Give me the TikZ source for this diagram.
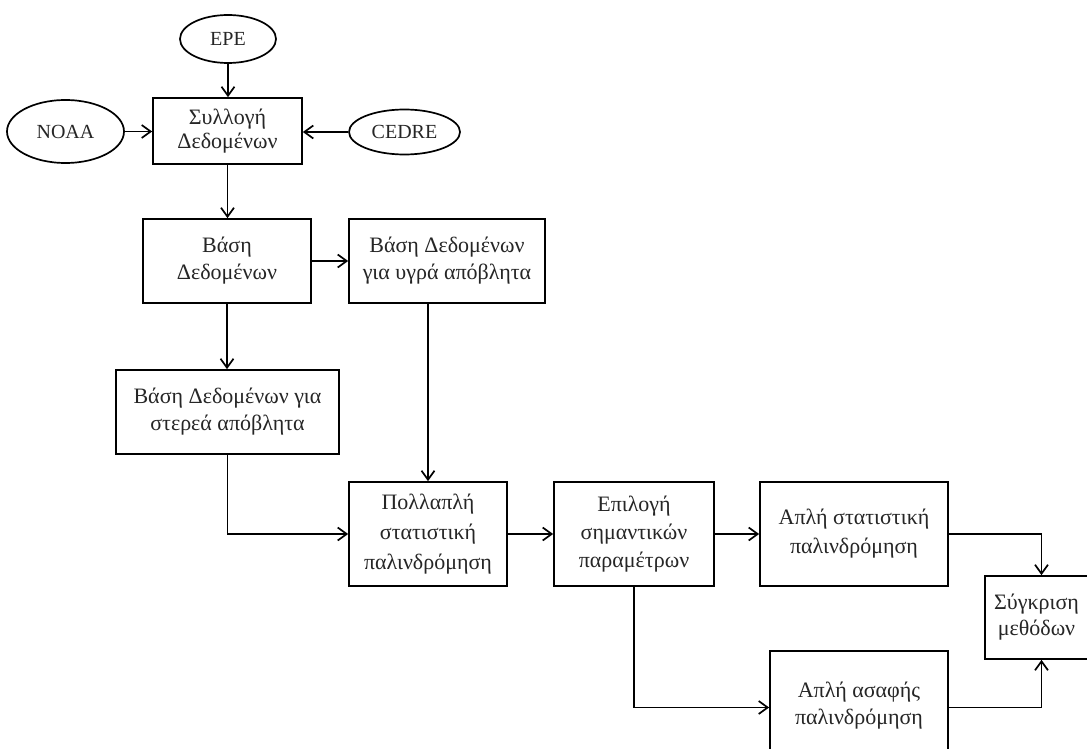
\documentclass[tikz,border=0pt]{standalone}
\usepackage{fontspec}
\setmainfont{Liberation Serif}
\usetikzlibrary{shapes.geometric,arrows.meta}
\begin{document}
\begin{tikzpicture}[x=1pt,y=-1pt,
  every node/.style={font=\fontsize{22}{27}\selectfont, text=black!85, inner sep=0pt, align=center},
  procbox/.style={draw, line width=1.7pt, rectangle},
  srcell/.style={draw, line width=1.7pt, ellipse},
  conn/.style={draw, line width=1.7pt, -{Straight Barb[length=9pt,width=13pt,line width=1.7pt]}}
]
\useasboundingbox (0,0) rectangle (1087,749);
\fill[white] (0,0) rectangle (1087,749);

\node[srcell, minimum width=96, minimum height=48, font=\fontsize{20}{24}\selectfont] (epe) at (228,39) {EPE};
\node[srcell, minimum width=117, minimum height=63, font=\fontsize{20}{24}\selectfont] (noaa) at (65.5,131.5) {NOAA};
\node[srcell, minimum width=111, minimum height=45, font=\fontsize{20}{24}\selectfont] (cedre) at (404.5,132) {CEDRE};
\node[procbox, minimum width=149, minimum height=66, font=\fontsize{22}{24}\selectfont] (syl) at (227.5,131) {Συλλογή\\Δεδομένων};
\node[procbox, minimum width=168, minimum height=84] (vasi) at (227,261) {Βάση\\Δεδομένων};
\node[procbox, minimum width=196, minimum height=84] (ygra) at (447,261) {Βάση Δεδομένων\\για υγρά απόβλητα};
\node[procbox, minimum width=223, minimum height=84] (sterea) at (227.5,412) {Βάση Δεδομένων για\\στερεά απόβλητα};
\node[procbox, minimum width=158, minimum height=104, font=\fontsize{22}{30}\selectfont] (poll) at (428,534) {Πολλαπλή\\στατιστική\\παλινδρόμηση};
\node[procbox, minimum width=160, minimum height=104, font=\fontsize{22}{28}\selectfont] (epil) at (634,534) {Επιλογή\\σημαντικών\\παραμέτρων};
\node[procbox, minimum width=188, minimum height=104, font=\fontsize{22}{29}\selectfont] (aplstat) at (854,534) {Απλή στατιστική\\παλινδρόμηση};
\node[procbox, minimum width=178, minimum height=109, font=\fontsize{22}{27}\selectfont] (asaf) at (859,705.5) {Απλή ασαφής\\παλινδρόμηση};
\node[procbox, minimum width=103, minimum height=83, font=\fontsize{22}{26}\selectfont] (sygk) at (1036.5,617.5) {Σύγκριση\\μεθόδων};

\draw[conn] (epe.south) -- (epe.south |- syl.north);
\draw[conn] (noaa.east) -- (noaa.east -| syl.west);
\draw[conn] (cedre.west) -- (cedre.west -| syl.east);
\draw[conn] (syl.south) -- (syl.south |- vasi.north);
\draw[conn] (vasi.east) -- (vasi.east -| ygra.west);
\draw[conn] (vasi.south) -- (vasi.south |- sterea.north);
\draw[conn] (sterea.south) |- (poll.west);
\draw[conn] (poll.north |- ygra.south) -- (poll.north);
\draw[conn] (poll.east) -- (epil.west);
\draw[conn] (epil.east) -- (aplstat.west);
\draw[conn] (epil.south) |- ([yshift=-2pt]asaf.west);
\draw[conn] (aplstat.east) -| ([xshift=5pt]sygk.north);
\draw[conn] ([yshift=-2pt]asaf.east) -| ([xshift=5pt]sygk.south);
\end{tikzpicture}
\end{document}
